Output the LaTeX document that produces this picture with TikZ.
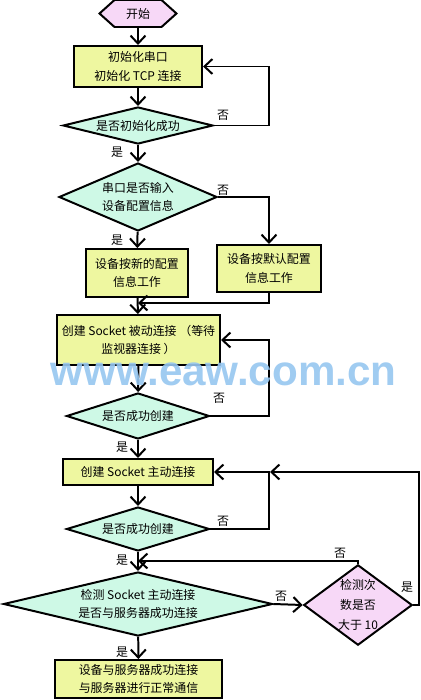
\documentclass[tikz,border=0pt]{standalone}
\usepackage{fontspec}
\setmainfont{Noto Sans CJK SC}
\newfontfamily\markfont{Liberation Sans}
\usetikzlibrary{arrows.meta,shapes.geometric,shapes.symbols}
\definecolor{flowbox}{RGB}{238,247,160}
\definecolor{flowdec}{RGB}{206,249,230}
\definecolor{flowpink}{RGB}{247,216,247}
\definecolor{flowmark}{RGB}{150,198,240}
\newlength\upx
\setlength\upx{0.03cm}
\tikzset{
  flowarrow/.style={-{Straight Barb[length=0.24cm,width=0.45cm]}, line width=1.7pt},
  flowstep/.style={
    draw,
    line width=1.7pt,
    fill=flowbox,
    align=center,
    font=\fontsize{10.2}{16}\selectfont,
    inner sep=0pt
  },
  flowtest/.style={
    diamond,
    draw,
    line width=1.7pt,
    fill=flowdec,
    align=center,
    font=\fontsize{10.2}{16}\selectfont,
    inner sep=0pt
  },
  flowtag/.style={font=\fontsize{10.2}{12}\selectfont, inner sep=0pt}
}

\begin{document}
\begin{tikzpicture}[x=0.03cm, y=-0.03cm]
  \useasboundingbox (0,0) rectangle (421,700);

  \node[signal, signal to=west and east, signal pointer angle=84, draw, line width=1.7pt, fill=flowpink,
        font=\fontsize{10.2}{12}\selectfont, minimum width=77\upx, minimum height=27\upx, inner sep=0pt] (s) at (138,13.5) {开始};
  \node[flowstep, minimum width=128\upx, minimum height=41\upx] (i) at (138,66.5) {初始化串口\\初始化 TCP 连接};
  \node[flowtest, minimum width=150\upx, minimum height=37\upx, aspect=4] (t1) at (138,125.5) {是否初始化成功};
  \node[flowtest, minimum width=158\upx, minimum height=68\upx, aspect=2.3] (t2) at (138,197) {串口是否输入\\设备配置信息};
  \node[flowstep, minimum width=102\upx, minimum height=48\upx] (n) at (137,273) {设备按新的配置\\信息工作};
  \node[flowstep, minimum width=104\upx, minimum height=47\upx] (f) at (269,268.5) {设备按默认配置\\信息工作};
  \node[flowstep, minimum width=163\upx, minimum height=50\upx] (l) at (138.5,340) {创建 Socket 被动连接 （等待\\监视器连接 ）};
  \node[flowtest, minimum width=143\upx, minimum height=46\upx, aspect=3.1] (t3) at (138,416) {是否成功创建};
  \node[flowstep, minimum width=150\upx, minimum height=26\upx] (c) at (138,472) {创建 Socket 主动连接};
  \node[flowtest, minimum width=143\upx, minimum height=44\upx, aspect=3.2] (t4) at (138,529) {是否成功创建};
  \node[flowtest, minimum width=269\upx, minimum height=64\upx, aspect=4.2] (t5) at (138,604) {检测 Socket 主动连接\\是否与服务器成功连接};
  \node[flowtest, fill=flowpink, minimum width=103\upx, minimum height=76\upx, aspect=1.35,
        font=\fontsize{10.2}{17}\selectfont] (r) at (358,605) {检测次\\数是否\\大于 10};
  \node[flowstep, minimum width=167\upx, minimum height=38\upx] (o) at (138.5,679) {设备与服务器成功连接\\与服务器进行正常通信};

  \coordinate (rx) at (269,0);
  \coordinate (rr) at (419,0);
  \coordinate (j1) at (138,303);
  \coordinate (j2) at (138,561);
  \coordinate (j3) at (270,472);

  \draw[flowarrow] (s) -- (i);
  \draw[flowarrow] (i) -- (t1);
  \draw[flowarrow] (t1.east) -- (t1.east -| rx) |- (i.east);
  \draw[flowarrow] (t1) -- (t2);
  \draw[flowarrow] (t2.east) -| (f.north);
  \draw[flowarrow] (t2) -- (n);
  \draw[flowarrow] (n) -- (l);
  \draw[flowarrow] (f.south) |- (j1);
  \draw[flowarrow] (l) -- (t3);
  \draw[flowarrow] (t3.east) -- (t3.east -| rx) |- (l.east);
  \draw[flowarrow] (t3) -- (c);
  \draw[flowarrow] (c) -- (t4);
  \draw[flowarrow] (t4.east) -- (t4.east -| rx) |- (c.east);
  \draw[flowarrow] (t4) -- (t5);
  \draw[flowarrow] (r.north) |- (j2);
  \draw[flowarrow] (t5.east) -- (r.west);
  \draw[flowarrow] (r.east) -- (r.east -| rr) |- (j3);
  \draw[flowarrow] (t5) -- (o);

  \node[flowtag] (n1) at (223,115) {否};
  \node[flowtag] (y1) at (117,152) {是};
  \node[flowtag] (n2) at (223,190) {否};
  \node[flowtag] (y2) at (117,240) {是};
  \node[flowtag] (n3) at (219,398) {否};
  \node[flowtag] (y3) at (122,447) {是};
  \node[flowtag] (n4) at (223,521) {否};
  \node[flowtag] (y4) at (122,560) {是};
  \node[flowtag] (n5) at (340,553) {否};
  \node[flowtag] (n6) at (281,596) {否};
  \node[flowtag] (y5) at (407,587) {是};
  \node[flowtag] (y6) at (122,652) {是};

  \node[anchor=base, text=flowmark, opacity=0.9, inner sep=0pt, text height=19pt, text depth=0pt,
        font=\markfont\bfseries\fontsize{36}{36}\selectfont] (w) at (223.5,385) {www.eaw.com.cn};
\end{tikzpicture}
\end{document}
